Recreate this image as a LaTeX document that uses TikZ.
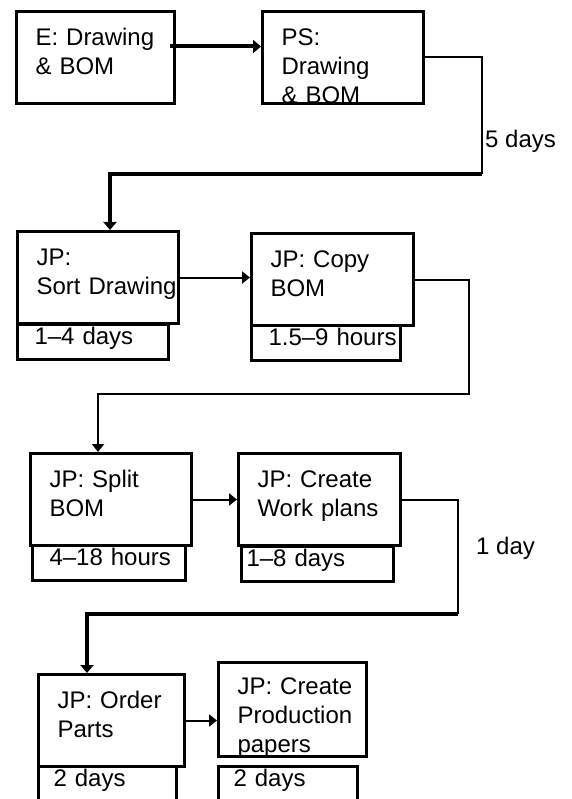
\documentclass[tikz,border=0pt]{standalone}
\usepackage{fontspec}
\setmainfont{Liberation Sans}
\usetikzlibrary{arrows.meta}
\hyphenpenalty=10000
\exhyphenpenalty=10000

\begin{document}
\begin{tikzpicture}[
  x=1pt, y=-1pt,
  stepbox/.style={draw,line width=3pt,anchor=north west,align=left,
                  inner xsep=19pt,inner ysep=0pt,text width=#1,
                  text height=34pt,text depth=58pt,
                  font=\fontsize{24}{29}\selectfont},
  stepbox/.default=123pt,
  timebox/.style={draw,line width=3pt,anchor=north west,align=left,
                  inner xsep=17pt,inner ysep=0pt,text width=#1,
                  text height=20pt,text depth=15pt,
                  font=\fontsize{24}{29}\selectfont},
  wire/.style={line width=2pt},
  link/.style={wire,-{Triangle[length=8pt,width=12pt]}},
  heavy/.style={line width=4pt,-{Triangle[length=8pt,width=13pt]}},
  note/.style={anchor=base west,inner sep=0pt,font=\fontsize{24}{29}\selectfont},
]
  \useasboundingbox (0,0) rectangle (571,799);

  % Top row
  \node[stepbox=120pt] (eng) at (15,10) {E:~Drawing\\\&~BOM};
  \node[stepbox]       (ps)  at (261,10) {PS:\\Drawing\\\&~BOM};

  % Second row
  \node[timebox=117pt] (sortt) at (16,323)  {\mbox{1--4 days}};
  \node[stepbox]       (sort)  at (16,230)  {JP:\\Sort~Drawing};
  \node[timebox=115pt] (copyt) at (250,324) {\mbox{1.5--9 hours}};
  \node[stepbox=124pt] (copy)  at (250,232) {JP:~Copy\\BOM};

  % Third row
  \node[timebox=119pt]                 (splitt) at (31,544)  {\mbox{4--18 hours}};
  \node[stepbox]                       (split)  at (29,452)  {JP:~Split\\BOM};
  \node[timebox=142pt,inner xsep=5pt]  (workt)  at (240,545) {\mbox{1--8 days}};
  \node[stepbox=124pt]                 (work)   at (237,452) {JP:~Create\\Work~plans};

  % Bottom row
  \node[timebox=108pt,inner xsep=15pt,text depth=60pt] (ordert) at (37,765)  {2~days};
  \node[stepbox=108pt]                                 (order)  at (37,673)  {JP:~Order\\Parts};
  \node[timebox=109pt,inner xsep=15pt,text depth=60pt] (prodt)  at (217,765) {2~days};
  \node[stepbox=110pt,text height=32pt,text depth=62pt] (prod)  at (217,661) {JP:~Create\\Production\\papers};

  % Turning points of the long connectors
  \coordinate (turnA) at (482,174);
  \coordinate (turnB) at (469,394);
  \coordinate (turnC) at (458,614);

  % Connectors
  \draw[heavy] ([shift={(-6pt,11pt)}]eng.east) coordinate (engout) -- (engout -| ps.west);
  \draw[wire]  (ps.east) -| (turnA);
  \draw[heavy] (turnA) -| ([xshift=94pt]sort.north west);
  \draw[link]  (sort.east) -- (sort.east -| copy.west);
  \draw[link]  (copy.east) -| (turnB) -| ([xshift=69pt]split.north west);
  \draw[link]  (split.east) -- (split.east -| work.west);
  \draw[wire]  (work.east) -| (turnC);
  \draw[heavy] (turnC) -| ([xshift=50pt]order.north west);
  \draw[link]  (order.east) -- (order.east -| prod.west);

  % Waiting times
  \node[note] (lagA) at (485,148) {5 days};
  \node[note] (lagB) at (476,554) {1 day};
\end{tikzpicture}
\end{document}
